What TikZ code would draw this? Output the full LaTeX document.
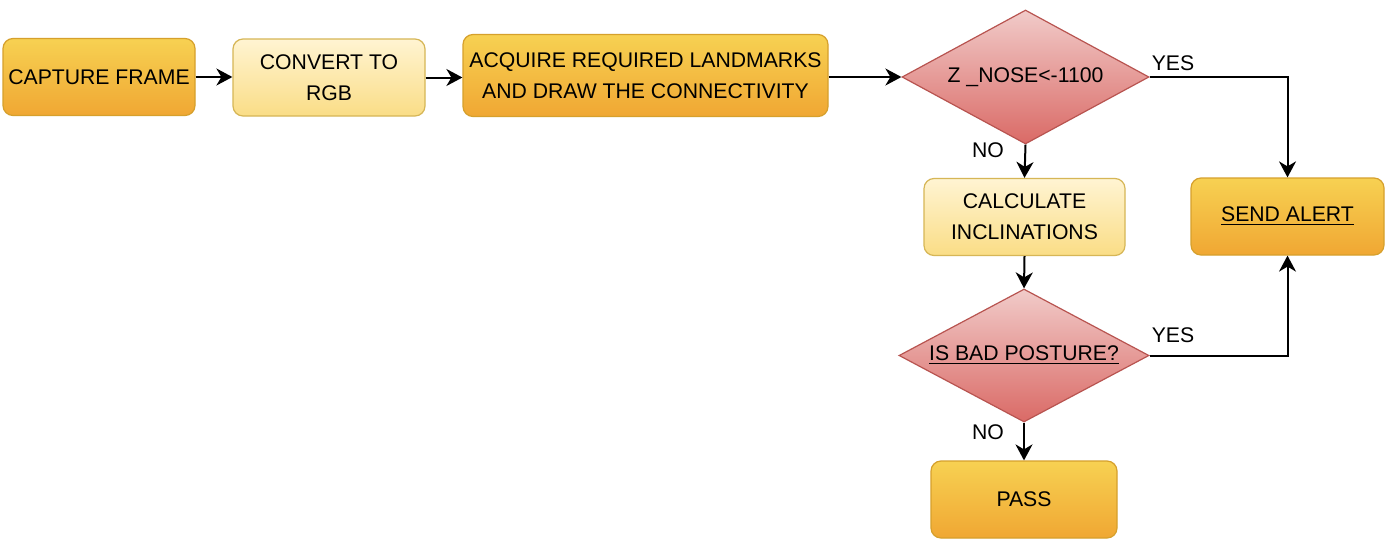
\documentclass[tikz,border=0pt]{standalone}
\usepackage{fontspec}
\setmainfont{Liberation Sans}
\usetikzlibrary{arrows.meta,shapes.geometric}
\definecolor{orT}{HTML}{F7D152}
\definecolor{orB}{HTML}{F0A733}
\definecolor{orD}{HTML}{D6A02C}
\definecolor{ylT}{HTML}{FFF4D2}
\definecolor{ylB}{HTML}{FADD86}
\definecolor{ylD}{HTML}{D6B656}
\definecolor{rdT}{HTML}{F1CBC9}
\definecolor{rdB}{HTML}{DA6A66}
\definecolor{rdD}{HTML}{B85450}
\tikzset{
  box/.style={rectangle, rounded corners=5pt, line width=0.6pt, align=center, inner sep=0pt,
    font=\fontsize{10.6pt}{15.5pt}\selectfont},
  orbox/.style={box, draw=orD, top color=orT, bottom color=orB},
  ylbox/.style={box, draw=ylD, top color=ylT, bottom color=ylB},
  dia/.style={diamond, aspect=1.85, draw=rdD, line width=0.6pt, top color=rdT, bottom color=rdB, inner sep=0pt,
    font=\fontsize{10.6pt}{15.5pt}\selectfont},
  conn/.style={line width=1pt, -{Stealth[length=8pt,width=8.5pt,inset=2.5pt]}},
  lbl/.style={font=\fontsize{10.6pt}{12pt}\selectfont, inner sep=0pt}
}
\begin{document}
\begin{tikzpicture}[x=0.5pt,y=-0.5pt]
\useasboundingbox[fill=white] (0,0) rectangle (1392,546);
\node[orbox, minimum width=96pt, minimum height=38.5pt] (cap) at (99,77) {CAPTURE FRAME};
\node[ylbox, minimum width=96pt, minimum height=38.5pt] (conv) at (329,77.5) {CONVERT TO\\RGB};
\node[orbox, minimum width=182.5pt, minimum height=41pt] (acq) at (645.5,75.5) {ACQUIRE REQUIRED LANDMARKS\\AND DRAW THE CONNECTIVITY};
\node[dia, minimum width=123.5pt, minimum height=67pt] (d1) at (1025.5,77) {Z \_NOSE<-1100};
\node[ylbox, minimum width=100.5pt, minimum height=38.5pt] (calc) at (1024.5,217) {CALCULATE\\INCLINATIONS};
\node[orbox, minimum width=96.5pt, minimum height=38.5pt] (alert) at (1287.5,216.5) {\underline{SEND ALERT}};
\node[dia, minimum width=125pt, minimum height=66.5pt] (d2) at (1024,355.5) {\underline{IS BAD POSTURE?}};
\node[orbox, minimum width=93pt, minimum height=38.5pt] (pass) at (1024,499.5) {PASS};

\draw[conn] (cap) -- (conv.west |- cap.east);
\draw[conn] (conv.east) -- (conv.east -| acq.west);
\draw[conn] (acq.east |- d1.west) -- (d1.west);
\draw[conn] (d1.east) -| (alert.north);
\draw[conn] (d1.south) -- (calc.north);
\draw[conn] (calc.south) -- (d2.north);
\draw[conn] (d2.east) -| (alert.south);
\draw[conn] (d2.south) -- (pass.north);

\node[lbl] (y1) at (1173,63) {YES};
\node[lbl] (n1) at (988,150) {NO};
\node[lbl] (y2) at (1173,335) {YES};
\node[lbl] (n2) at (988,432) {NO};
\end{tikzpicture}
\end{document}
